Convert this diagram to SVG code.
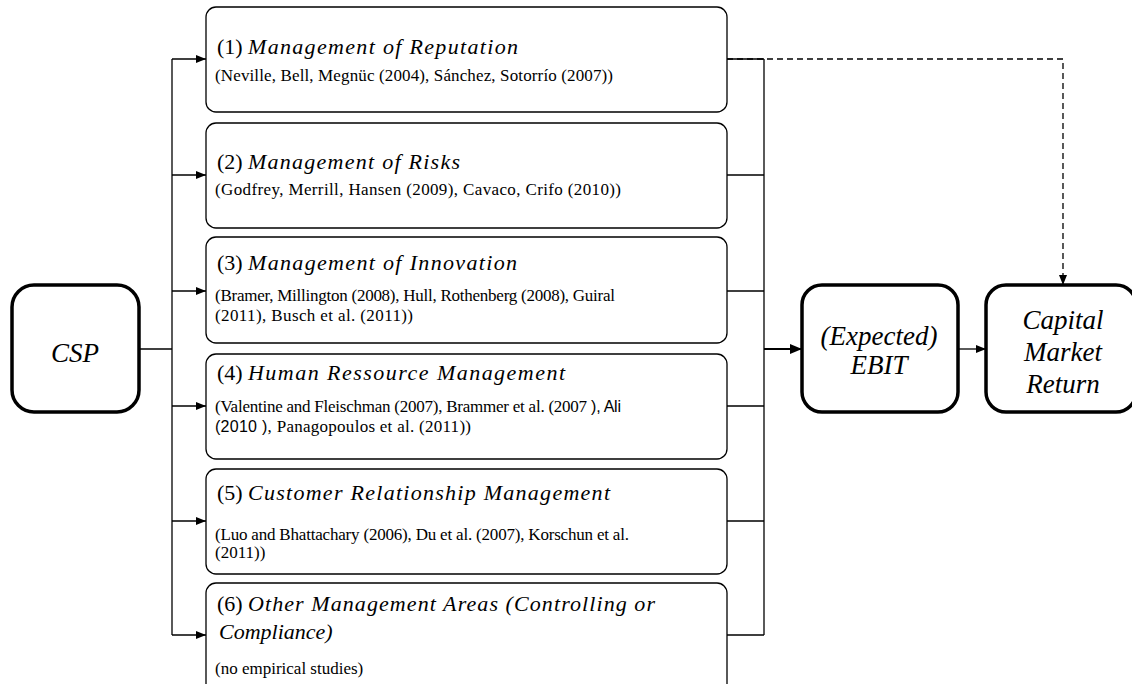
<svg xmlns="http://www.w3.org/2000/svg" width="1132" height="684" viewBox="0 0 1132 684">
<style>
.box{fill:#fff;stroke:#000;stroke-width:1.3}
.big{fill:#fff;stroke:#000;stroke-width:3.5}
.ln{fill:none;stroke:#000;stroke-width:1.3}
.t{font-family:"Liberation Serif","Times New Roman",serif;font-size:22px;fill:#000}
.i{font-style:italic}
.c{font-family:"Liberation Serif","Times New Roman",serif;font-size:17px;fill:#000}
.s{font-family:"Liberation Sans",Arial,sans-serif;font-size:16px}
.n{font-family:"Liberation Serif","Times New Roman",serif;font-size:27px;font-style:italic;fill:#000;text-anchor:middle}
</style>
<defs>
<marker id="ah" viewBox="0 0 10 8" refX="10" refY="4" markerWidth="10" markerHeight="8" markerUnits="userSpaceOnUse" orient="auto"><path d="M0,0 L10,4 L0,8 z" fill="#000"/></marker>
<marker id="ahb" viewBox="0 0 12 10" refX="12" refY="5" markerWidth="12" markerHeight="10" markerUnits="userSpaceOnUse" orient="auto"><path d="M0,0 L12,5 L0,10 z" fill="#000"/></marker>
</defs>
<g id="connectors">
<path class="ln" d="M139,349 H172"/>
<path class="ln" d="M172,59 V635"/>
<path class="ln" d="M172,59 H206" marker-end="url(#ah)"/>
<path class="ln" d="M172,175 H206" marker-end="url(#ah)"/>
<path class="ln" d="M172,291 H206" marker-end="url(#ah)"/>
<path class="ln" d="M172,406 H206" marker-end="url(#ah)"/>
<path class="ln" d="M172,521 H206" marker-end="url(#ah)"/>
<path class="ln" d="M172,635 H206" marker-end="url(#ah)"/>
<path class="ln" d="M727,59 H764 M727,175 H764 M727,291 H764 M727,406 H764 M727,521 H764 M727,635 H764"/>
<path class="ln" d="M764,59 V635"/>
<path fill="none" stroke="#000" stroke-width="2.2" d="M764,349 H802" marker-end="url(#ahb)"/>
<path class="ln" d="M958,349 H986" marker-end="url(#ah)"/>
<path class="ln" stroke-dasharray="6,4" d="M727,59 H1063 V285" marker-end="url(#ah)"/>
</g>
<g id="csp"><rect class="big" x="12" y="285" width="127" height="127" rx="22"/><text class="n" x="75" y="362">CSP</text></g>
<g id="box1"><rect class="box" x="206" y="7" width="521" height="105" rx="10"/>
<text class="t" x="217" y="54">(1)</text>
<text class="t i" x="248" y="54" textLength="270" lengthAdjust="spacing">Management of Reputation</text>
<text class="c" x="215" y="81" textLength="398" lengthAdjust="spacing">(Neville, Bell, Megnüc (2004), Sánchez, Sotorrío (2007))</text></g>
<g id="box2"><rect class="box" x="206" y="123" width="521" height="105" rx="10"/>
<text class="t" x="217" y="169">(2)</text>
<text class="t i" x="248" y="169" textLength="212" lengthAdjust="spacing">Management of Risks</text>
<text class="c" x="215" y="195" textLength="406" lengthAdjust="spacing">(Godfrey, Merrill, Hansen (2009), Cavaco, Crifo (2010))</text></g>
<g id="box3"><rect class="box" x="206" y="237" width="521" height="106" rx="10"/>
<text class="t" x="217" y="270">(3)</text>
<text class="t i" x="248" y="270" textLength="269" lengthAdjust="spacing">Management of Innovation</text>
<text class="c" x="215" y="301" textLength="400" lengthAdjust="spacing">(Bramer, Millington (2008), Hull, Rothenberg (2008), Guiral</text>
<text class="c" x="215" y="321" textLength="198" lengthAdjust="spacing">(2011), Busch et al. (2011))</text></g>
<g id="box4"><rect class="box" x="206" y="354" width="521" height="105" rx="10"/>
<text class="t" x="217" y="380">(4)</text>
<text class="t i" x="248" y="380" textLength="317" lengthAdjust="spacing">Human Ressource Management</text>
<text class="c" x="215" y="412" textLength="406" lengthAdjust="spacing">(Valentine and Fleischman (2007), Brammer et al. (2007<tspan class="s"> ), Ali</tspan></text>
<text class="c" x="215" y="432" textLength="256" lengthAdjust="spacing"><tspan class="s">(2010 )</tspan>, Panagopoulos et al. (2011))</text></g>
<g id="box5"><rect class="box" x="206" y="469" width="521" height="105" rx="10"/>
<text class="t" x="217" y="500">(5)</text>
<text class="t i" x="248" y="500" textLength="362" lengthAdjust="spacing">Customer Relationship Management</text>
<text class="c" x="215" y="540" textLength="414" lengthAdjust="spacing">(Luo and Bhattachary (2006), Du et al. (2007), Korschun et al.</text>
<text class="c" x="215" y="558">(2011))</text></g>
<g id="box6"><rect class="box" x="206" y="583" width="521" height="112" rx="10"/>
<text class="t" x="217" y="611">(6)</text>
<text class="t i" x="248" y="611" textLength="407" lengthAdjust="spacing">Other Management Areas (Controlling or</text>
<text class="t i" x="219" y="639">Compliance)</text>
<text class="c" x="215" y="674">(no empirical studies)</text></g>
<g id="ebit"><rect class="big" x="802" y="285" width="156" height="127" rx="20"/>
<text class="n" x="879" y="345">(Expected)</text><text class="n" x="879" y="374">EBIT</text></g>
<g id="cmr"><rect class="big" x="986" y="285" width="150" height="127" rx="20"/>
<text class="n" x="1063" y="329">Capital</text><text class="n" x="1063" y="361">Market</text><text class="n" x="1063" y="393">Return</text></g>
</svg>
